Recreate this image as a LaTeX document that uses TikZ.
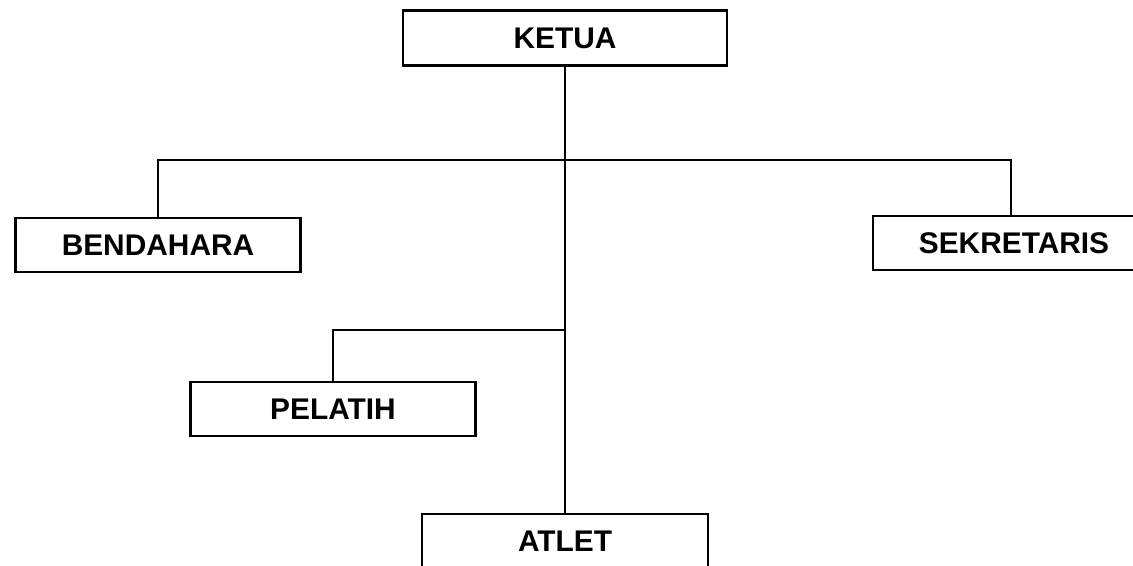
\documentclass[tikz,border=0pt]{standalone}
\usepackage{fontspec}
\setmainfont{Liberation Sans}
\usepackage{tikz}

\begin{document}
\begin{tikzpicture}[x=0.02cm,y=-0.02cm,
        jabatan/.style={draw,line width=1.2pt,rectangle,minimum width=285*0.02cm,minimum height=54*0.02cm,font=\fontsize{17}{20}\selectfont\bfseries,inner sep=0pt},
        garis/.style={line width=1.3pt}]
        \path[use as bounding box,clip] (0,0) rectangle (1133,565);

        \coordinate (v1) at (565,38);
        \coordinate (v2) at (158,245);
        \coordinate (v3) at (1014,243);
        \coordinate (v4) at (333,409);
        \coordinate (v5) at (565,541);
        \coordinate (j1) at (565,160);
        \coordinate (j2) at (565,330);

        \node[jabatan,minimum width=324*0.02cm,minimum height=55*0.02cm] (ketua) at (v1) {KETUA};
        \node[jabatan] (bendahara) at (v2) {BENDAHARA};
        \node[jabatan,minimum width=282*0.02cm] (sekretaris) at (v3) {SEKRETARIS};
        \node[jabatan] (pelatih) at (v4) {PELATIH};
        \node[jabatan,minimum width=286*0.02cm] (atlet) at (v5) {ATLET};

        \draw[garis] (ketua.south) -- (atlet.north);
        \draw[garis] (bendahara.north) |- (j1) -| ([xshift=-3*0.02cm]sekretaris.north);
        \draw[garis] (j2) -| (pelatih.north);
    \end{tikzpicture}
\end{document}
